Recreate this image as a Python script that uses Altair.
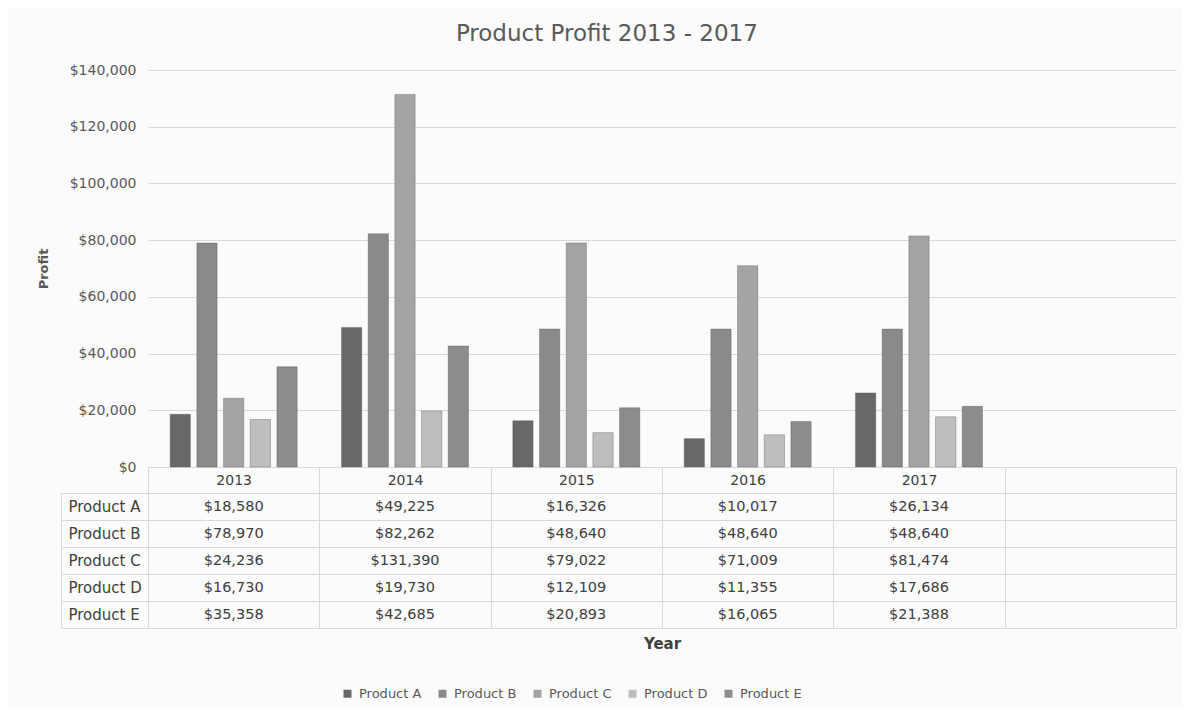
import altair as alt
import pandas as pd

# ---- data ----
years = ["2013", "2014", "2015", "2016", "2017"]
blank_column = " "
products = ["Product A", "Product B", "Product C", "Product D", "Product E"]
product_a = [18580, 49225, 16326, 10017, 26134]
product_b = [78970, 82262, 48640, 48640, 48640]
product_c = [24236, 131390, 79022, 71009, 81474]
product_d = [16730, 19730, 12109, 11355, 17686]
product_e = [35358, 42685, 20893, 16065, 21388]
colors = ["#686868", "#8a8a8a", "#a4a4a4", "#bebebe", "#8c8c8c"]
y_ticks = [0, 20000, 40000, 60000, 80000, 100000, 120000, 140000]

series = [product_a, product_b, product_c, product_d, product_e]
rows = []
for p, vals in zip(products, series):
    for yr, v in zip(years, vals):
        rows.append({"Year": yr, "Product": p, "Profit": v, "Label": "${:,}".format(v)})
df = pd.DataFrame(rows)

FONT = "DejaVu Sans"
GRID = "#d9d9d9"
TXT = "#404040"
AX = "#595959"

x_scale = alt.Scale(domain=years + [blank_column], paddingInner=0, paddingOuter=0)
row_scale = alt.Scale(domain=products, paddingInner=0, paddingOuter=0)

main = alt.Chart(df).mark_bar(stroke="#505050", strokeOpacity=0.35, strokeWidth=1).encode(
    x=alt.X("Year:N", scale=x_scale, sort=None,
            axis=alt.Axis(title=None, labelAngle=0, tickBand="extent", tickSize=26,
                          tickColor=GRID, domainColor=GRID, labelPadding=-13,
                          labelBaseline="middle", labelFontSize=14, labelColor=TXT,
                          labelFont=FONT, grid=False)),
    xOffset=alt.XOffset("Product:N", scale=alt.Scale(domain=products, paddingInner=0.24, paddingOuter=0.83)),
    y=alt.Y("Profit:Q", scale=alt.Scale(domain=[0, 140000], nice=False),
            axis=alt.Axis(values=y_ticks, format="$,.0f", domain=False, ticks=False,
                          gridColor=GRID, labelPadding=12, labelFontSize=14,
                          labelColor=AX, labelFont=FONT, title="Profit", titleFontSize=13,
                          titleFontWeight="bold", titleColor=AX, titleFont=FONT,
                          titlePadding=19)),
    color=alt.Color("Product:N", scale=alt.Scale(domain=products, range=colors),
                    legend=alt.Legend(title=None, orient="none", legendX=193, legendY=617,
                                      direction="horizontal", columns=5, symbolType="square",
                                      symbolSize=64, symbolStrokeWidth=0, labelFontSize=13,
                                      labelFont=FONT, labelColor=AX, columnPadding=14,
                                      labelOffset=5)),
).properties(width=1028, height=397)

table_text = alt.Chart(df).mark_text(font=FONT, fontSize=14.5, color=TXT).encode(
    x=alt.X("Year:N", scale=x_scale, sort=None,
            axis=alt.Axis(title="Year", labels=False, ticks=False, domain=False, grid=True,
                          gridColor=GRID, tickBand="extent", titleFontWeight="bold",
                          titleFontSize=15, titleColor=TXT, titleFont=FONT, titlePadding=8)),
    y=alt.Y("Product:N", scale=row_scale, sort=None,
            axis=alt.Axis(title=None, tickBand="extent", tickSize=87, tickColor=GRID,
                          grid=True, gridColor=GRID, domain=False, labelAlign="left",
                          labelBaseline="middle", labelPadding=-7, labelFontSize=15,
                          labelColor=TXT, labelFont=FONT)),
    text="Label:N",
)

border = alt.Chart(df).mark_text(opacity=0).encode(
    y=alt.Y("Product:N", scale=row_scale, sort=None,
            axis=alt.Axis(orient="left", offset=87, domain=True, domainColor=GRID,
                          ticks=False, labels=False, grid=False, title=None)),
    text="Label:N",
)

table = alt.layer(table_text, border).resolve_scale(y="independent").resolve_axis(
    y="independent").properties(width=1028, height=135)

chart = alt.vconcat(main, table, spacing=26, bounds="flush").properties(
    title=alt.TitleParams(text="Product Profit 2013 - 2017", fontSize=23, font=FONT,
                          fontWeight="normal", color=AX, anchor="middle", frame="bounds",
                          offset=17),
    background="#fbfbfb",
    padding={"left": 29, "top": 15, "right": 5, "bottom": 5},
).configure_view(stroke=None)

chart.save("out.html", embed_options={"renderer": "svg", "actions": False})
